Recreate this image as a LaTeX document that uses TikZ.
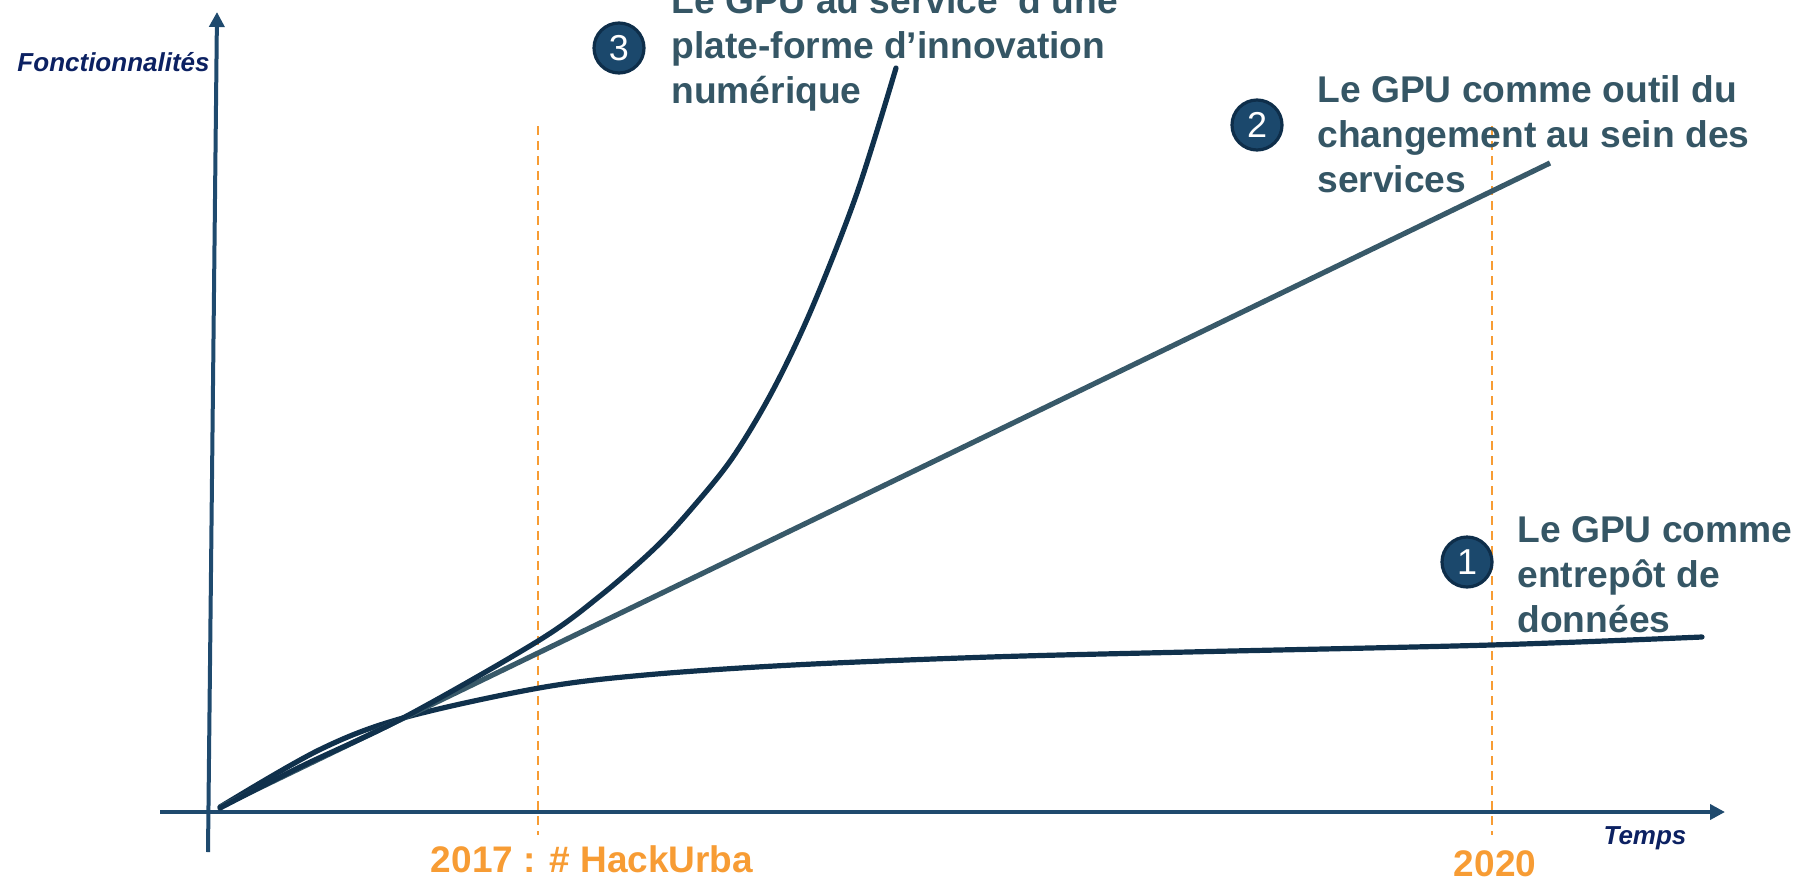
\documentclass[tikz,border=0pt]{standalone}
\usepackage{fontspec}
\setmainfont{Liberation Sans}
\usetikzlibrary{arrows.meta, positioning}
\definecolor{axisblue}{RGB}{31,74,110}
\definecolor{curvenavy}{RGB}{16,49,76}
\definecolor{lineslate}{RGB}{56,89,105}
\definecolor{labelslate}{RGB}{53,86,101}
\definecolor{badgeblue}{RGB}{27,72,108}
\definecolor{badgerim}{RGB}{14,46,74}
\definecolor{hackorange}{RGB}{247,156,52}
\definecolor{titlenavy}{RGB}{12,33,98}

\begin{document}
\begin{tikzpicture}
  [x=0.5pt, y=-0.5pt,
   axis/.style={draw=axisblue, line width=2pt, -{Triangle[width=7.5pt, length=7.5pt]}},
   curve/.style={draw=curvenavy, line width=2.6pt, line cap=round},
   milestone/.style={draw=hackorange, line width=1pt, dash pattern=on 4.5pt off 3pt},
   badge/.style={circle, fill=badgeblue, draw=badgerim, line width=1.6pt, minimum size=25pt,
     inner sep=0pt, text=white, font=\fontsize{18}{18}\selectfont},
   phase/.style={anchor=base west, align=left, inner sep=0pt, text=labelslate,
     font=\bfseries\fontsize{18.6}{22.3}\selectfont},
   axistitle/.style={inner sep=0pt, text=titlenavy, font=\bfseries\itshape\fontsize{13}{13}\selectfont},
   year/.style={anchor=base, inner sep=0pt, text=hackorange, font=\bfseries\fontsize{18.5}{18.5}\selectfont}]
  \useasboundingbox (0,0) rectangle (1793,879);

  % axes
  \coordinate (ybot) at (208,852);
  \coordinate (ytop) at (217,12);
  \coordinate (xleft) at (160,812);
  \coordinate (xright) at (1725,812);
  \draw [axis] (ybot) -- (ytop);
  \draw [axis] (xleft) -- (xright);
  \node (ftitle) [axistitle, anchor=east] at (210,62) {Fonctionnalités};
  \node (ttitle) [axistitle, anchor=base] at (1645,844) {Temps};

  % milestones
  \coordinate (hacktop) at (538,126);
  \coordinate (hackbot) at (538,835);
  \coordinate (endtop) at (1492,126);
  \coordinate (endbot) at (1492,835);
  \draw [milestone] (hacktop) -- (hackbot);
  \draw [milestone] (endtop) -- (endbot);
  \node (hack) [year] at (592,872) {2017 : \# HackUrba};
  \node (end) [year] at (1495,876) {2020};

  % curves
  \coordinate (origin) at (220,807);
  \draw [curve] plot [smooth, tension=0.55] coordinates {(220,807) (319,750) (403,718)
    (539,688) (645,675) (793,665) (990,657) (1188,652) (1491,645) (1702,637)};
  \draw [draw=lineslate, line width=2.6pt] (origin) -- (1550,163);
  \draw [curve] plot [smooth, tension=0.55] coordinates {(220,808) (300,767) (403,718)
    (538,641) (600,596) (655,548) (693,507) (733,457) (773,390) (812,308) (857,193) (896,68)};

  % phases
  \node (b1) [badge] at (1467,562) {1};
  \node (b2) [badge] at (1257,125) {2};
  \node (b3) [badge] at (619,48) {3};
  \node (p1) [phase] at (1517,632) {Le GPU comme\\entrepôt de\\données};
  \node (p2) [phase] at (1317,192) {Le GPU comme outil du\\changement au sein des\\services};
  \node (p3) [phase] at (671,103) {Le GPU au service~~d’une\\plate-forme d’innovation\\numérique};
\end{tikzpicture}
\end{document}
